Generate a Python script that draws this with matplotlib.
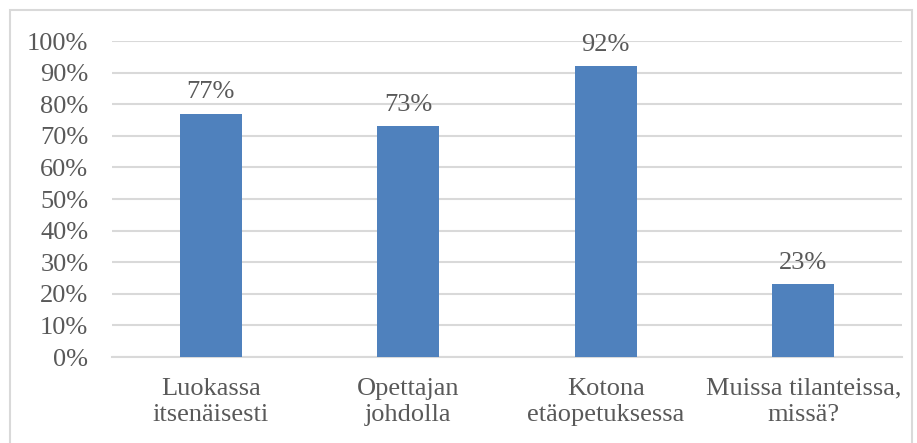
import matplotlib
matplotlib.use("Agg")
import matplotlib.pyplot as plt
from matplotlib.patches import Rectangle
from matplotlib.ticker import MultipleLocator, PercentFormatter

categories = ["Luokassa\nitsenäisesti", "Opettajan\njohdolla", "Kotona\netäopetuksessa", "Muissa tilanteissa,\nmissä?"]
values = [77, 73, 92, 23]

plt.rcParams["font.family"] = ["Liberation Serif", "DejaVu Serif"]
text_color = "#595959"
bar_color = "#4F81BD"
grid_color = "#D9D9D9"
fs = 19

fig = plt.figure(figsize=(9.17, 4.43), dpi=100)
ax = fig.add_axes([112 / 917, 1 - 357 / 443, 790 / 917, 316 / 443])

x = list(range(len(categories)))
ax.bar(x, values, width=0.315, color=bar_color, zorder=3)
for xi, v in zip(x, values):
    ax.annotate(f"{v}%", (xi, v), xytext=(0, 11), textcoords="offset points",
                ha="center", va="baseline", fontsize=fs, color=text_color)

# category names drawn under the axis with custom line spacing
for xi, name in zip(x, categories):
    ax.annotate(name, (xi, 0), xycoords=("data", "axes fraction"),
                xytext=(0, -15), textcoords="offset points",
                ha="center", va="top", fontsize=fs, color=text_color,
                linespacing=1.25, multialignment="center")

ax.set_xlim(-0.5, len(categories) - 0.5)
ax.set_ylim(0, 100)
ax.yaxis.set_major_locator(MultipleLocator(10))
ax.yaxis.set_major_formatter(PercentFormatter(decimals=0))
ax.set_xticks(x)
ax.set_xticklabels([])
ax.tick_params(axis="both", length=0, labelsize=fs, labelcolor=text_color)
ax.tick_params(axis="y", pad=17)
ax.grid(axis="y", color=grid_color, linewidth=1.5, zorder=0)
for side in ["top", "right", "left"]:
    ax.spines[side].set_visible(False)
ax.spines["bottom"].set_color(grid_color)
ax.spines["bottom"].set_linewidth(1.5)

fig.patches.append(Rectangle((10 / 917, -0.01), 902 / 917, 1 - 10 / 443 + 0.01,
                             transform=fig.transFigure, fill=False,
                             edgecolor="#D9D9D9", linewidth=1.5))

fig.savefig("out.png", dpi=100)
